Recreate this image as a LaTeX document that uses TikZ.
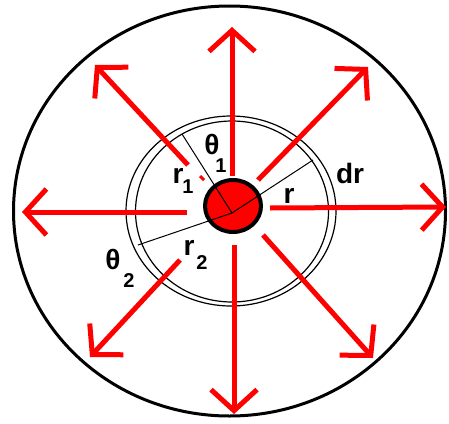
\documentclass[tikz,border=0pt]{standalone}
\usepackage{fontspec}
\setmainfont{Liberation Sans}
\usetikzlibrary{arrows.meta}
\usetikzlibrary{shapes.geometric}
\definecolor{qred}{RGB}{255,0,0}

\begin{document}
\begin{tikzpicture}[x=1pt, y=-1pt,
  ray/.style={draw=qred, line width=5, -{Straight Barb[length=21pt, width=46pt]}},
  radline/.style={draw=black, line width=1},
  lbl/.style={font=\bfseries\fontsize{28}{28}\selectfont, inner sep=0},
  sublbl/.style={font=\bfseries\fontsize{20}{20}\selectfont, inner sep=0}]
\useasboundingbox (0,0) rectangle (449,423);
% outer boundary and the thin shell
\draw[line width=3] (229.5,211) ellipse [x radius=216, y radius=205];
\draw[line width=1.2] (231,211) ellipse [x radius=105, y radius=95];
\draw[line width=1.2] (232,211.5) ellipse [x radius=96.5, y radius=90.5];
% rays
\coordinate (n0) at (232,176);  \coordinate (n1) at (232,27);
\coordinate (s0) at (234,245);  \coordinate (s1) at (234,414);
\coordinate (w0) at (187,212);  \coordinate (w1) at (22,212);
\coordinate (e0) at (270,208);  \coordinate (e1) at (446,207);
\coordinate (nw0) at (188,165); \coordinate (nw1) at (95,65);
\coordinate (ne0) at (258,180); \coordinate (ne1) at (368,67);
\coordinate (sw0) at (180,260); \coordinate (sw1) at (90,357);
\coordinate (se0) at (263,235); \coordinate (se1) at (373,358);
\foreach \d in {n,s,w,e,nw,ne,sw,se}
  \draw[ray] (\d0) -- (\d1);
\coordinate (tick0) at (200,176); \coordinate (tick1) at (204,180);
\draw[qred, line width=3] (tick0) -- (tick1);
% central charge
\node[ellipse, draw, fill=qred, line width=4, minimum width=56, minimum height=52, inner sep=0] (core) at (233,206) {};
\coordinate (c) at (232,213);
\coordinate (a1) at (182,134);
\coordinate (a2) at (313,160);
\coordinate (a3) at (138,245);
\draw[radline] (c) -- (a1);
\draw[radline] (c) -- (a2);
\draw[radline] (c) -- (a3);
% labels
\node[lbl] (th1) at (212,144) {θ};
\node[sublbl] (th1s) at (221,166) {1};
\node[lbl] (r1) at (178,176) {r};
\node[sublbl] (r1s) at (188,187) {1};
\node[lbl] (rr) at (289,196) {r};
\node[lbl] (dr) at (350,173) {dr};
\node[lbl] (th2) at (113,259) {θ};
\node[sublbl] (th2s) at (129,281) {2};
\node[lbl] (r2) at (189,248) {r};
\node[sublbl] (r2s) at (202,263) {2};
\end{tikzpicture}
\end{document}
